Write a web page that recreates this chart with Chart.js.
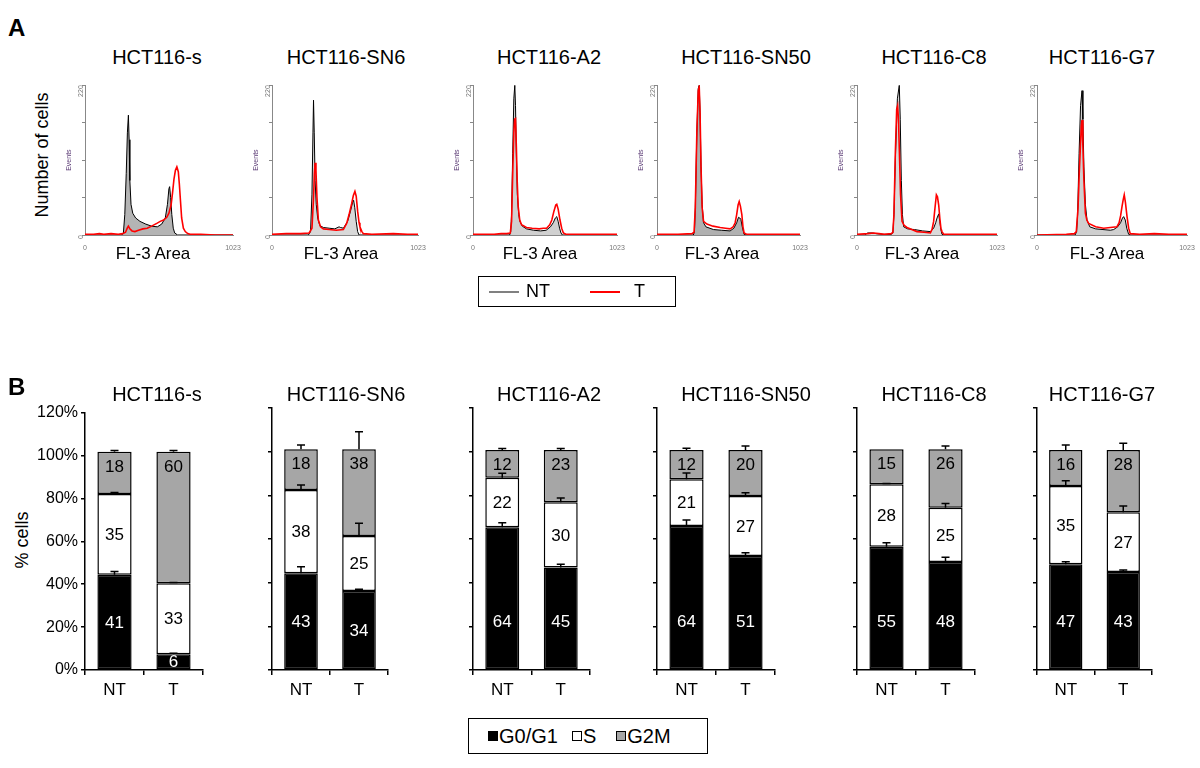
<!DOCTYPE html>
<html lang="en">
<head>
  <meta charset="UTF-8" />
  <title>Cell cycle profiles - HCT116 clones</title>
  <style>
    body {
      margin: 0;
      background-color: #fff;
      font-family: "Liberation Sans", Arial, sans-serif;
    }
    #fig {
      position: relative;
      width: 1200px;
      height: 768px;
      overflow: hidden;
    }
    canvas, .txt, .legend {
      position: absolute;
    }
    .txt {
      color: #000;
      white-space: nowrap;
      transform: translate(-50%, -50%);
    }
    .panel { font-size: 24px; font-weight: bold; transform: none; }
    .title { font-size: 20px; }
    .xlab { font-size: 17px; }
    .rot { font-size: 18px; transform: translate(-50%, -50%) rotate(-90deg); }
    .legend {
      border: 1px solid #000;
      box-sizing: border-box;
      display: flex;
      align-items: center;
      color: #000;
    }
  </style>
</head>
<body>
<div id="fig"></div>

<script src="https://cdn.jsdelivr.net/npm/chart.js"></script>
<script>
  // ---- data ----
  const cellLines = ['HCT116-s', 'HCT116-SN6', 'HCT116-A2', 'HCT116-SN50', 'HCT116-C8', 'HCT116-G7'];
  const conditions = ['NT', 'T'];

  // panel A: DNA content histograms, [FL-3 area, events]
  const histNT = [
    [[0,0],[250,0],[265,2],[275,30],[285,90],[293,150],[300,176],[305,140],[310,80],[318,45],[330,32],[350,25],[380,20],[420,16],[460,13],[500,12],[530,16],[555,25],[570,45],[580,68],[585,71],[592,55],[600,30],[610,10],[620,3],[640,0],[1023,0]],
    [[0,0],[255,0],[270,5],[280,60],[287,150],[291,198],[296,150],[302,80],[310,45],[320,25],[335,14],[360,11],[400,10],[440,9],[470,12],[480,11],[500,10],[530,20],[550,35],[565,48],[572,51],[580,40],[590,20],[600,5],[610,0],[1023,0]],
    [[0,0],[260,0],[268,5],[274,30],[282,120],[290,200],[297,220],[302,190],[308,120],[315,60],[325,30],[333,20],[350,13],[380,9],[430,7],[480,6],[520,7],[550,12],[570,18],[585,25],[595,27],[605,20],[615,10],[625,3],[635,0],[1023,0]],
    [[0,0],[260,0],[268,5],[274,40],[285,150],[295,215],[302,220],[308,180],[315,100],[323,45],[333,18],[350,12],[404,8],[460,7],[523,6],[550,10],[570,18],[583,26],[592,25],[600,23],[610,12],[623,1],[640,0],[1023,0]],
    [[0,0],[60,0],[75,3],[110,3],[140,2],[190,1],[250,1],[262,3],[270,30],[280,110],[295,200],[309,220],[316,170],[324,80],[332,30],[341,12],[370,9],[420,8],[480,6],[536,5],[560,10],[575,18],[585,25],[597,31],[605,20],[613,8],[621,1],[640,0],[1023,0]],
    [[0,0],[260,0],[270,5],[277,30],[287,120],[297,190],[307,212],[313,170],[320,100],[330,45],[341,22],[360,12],[400,9],[450,8],[500,7],[523,8],[550,12],[570,18],[583,25],[591,27],[602,22],[612,10],[625,1],[640,0],[1023,0]]
  ];
  const histT = [
    [[0,1],[60,1],[100,2],[130,1],[180,2],[230,1],[260,2],[280,4],[292,10],[300,13],[310,9],[325,6],[345,5],[370,7],[400,9],[430,10],[460,13],[496,17],[520,20],[543,22],[565,26],[580,32],[595,44],[605,62],[615,82],[625,95],[635,100],[645,93],[652,75],[660,50],[668,25],[680,10],[693,5],[710,2],[727,1],[800,1],[900,0],[1023,0]],
    [[0,1],[100,2],[200,2],[260,3],[280,10],[290,50],[297,90],[302,106],[308,95],[315,55],[325,22],[340,12],[360,9],[400,8],[450,7],[500,8],[523,17],[540,30],[558,46],[570,58],[581,64],[590,57],[600,35],[610,18],[616,12],[630,5],[640,2],[700,1],[850,2],[950,1],[1023,1]],
    [[0,1],[150,1],[200,2],[240,2],[265,3],[274,20],[282,90],[290,150],[296,170],[302,171],[308,130],[314,80],[321,42],[332,22],[345,15],[380,11],[420,10],[470,9],[500,10],[523,10],[545,15],[560,22],[575,35],[588,44],[595,45],[605,38],[618,22],[630,10],[642,3],[660,1],[800,1],[1023,1]],
    [[0,1],[150,1],[250,2],[265,4],[274,40],[285,150],[295,212],[302,218],[308,180],[315,100],[323,40],[333,20],[357,16],[400,13],[452,11],[490,10],[523,9],[545,12],[559,18],[570,30],[580,44],[588,49],[597,42],[607,30],[615,12],[623,3],[640,1],[1023,1]],
    [[0,1],[80,2],[120,3],[160,2],[200,1],[250,2],[262,4],[270,30],[280,120],[290,185],[297,190],[303,170],[310,120],[318,60],[329,20],[345,14],[365,11],[400,8],[438,5],[490,4],[536,3],[548,8],[560,20],[570,40],[580,59],[588,56],[597,44],[605,25],[613,10],[621,5],[634,1],[700,1],[1023,1]],
    [[0,0],[200,1],[255,2],[268,5],[280,40],[288,90],[295,125],[302,160],[307,169],[313,130],[320,80],[330,32],[340,22],[352,17],[400,12],[455,10],[500,11],[545,12],[560,18],[570,28],[580,42],[588,52],[595,59],[603,48],[614,27],[625,10],[636,2],[700,1],[800,2],[900,1],[1023,1]]
  ];
  const histXTicks = [0, 1023];
  const histYTicks = [0, 220];

  // panel B: stacked % of cells, per cell line [NT, T]
  const g0g1 = [[44.4, 7.3], [44.3, 36.2], [65.4, 46.9], [66.0, 52.2], [56.5, 49.5], [48.4, 44.9]];
  const sPhase = [[37.6, 33.2], [38.1, 25.2], [22.7, 29.9], [21.4, 27.5], [28.6, 24.8], [35.9, 27.3]];
  const g2m = [[19.7, 61.2], [18.7, 39.7], [12.7, 24.0], [13.4, 21.1], [16.0, 26.8], [16.5, 28.6]];
  // error bar half-heights (same layout)
  const g0g1Err = [[1.5, 0.5], [3.0, 0.8], [2.0, 1.5], [2.7, 1.5], [1.8, 2.1], [1.2, 0.9]];
  const sPhaseErr = [[0.8, 0.3], [2.3, 5.8], [2.0, 2.0], [2.8, 1.5], [0.3, 2.0], [2.4, 2.9]];
  const g2mErr = [[0.6, 0.6], [2.0, 8.0], [0.6, 0.6], [0.8, 1.8], [0, 1.5], [2.3, 3.0]];
  // printed numbers
  const g0g1Lbl = [[41, 6], [43, 34], [64, 45], [64, 51], [55, 48], [47, 43]];
  const sPhaseLbl = [[35, 33], [38, 25], [22, 30], [21, 27], [28, 25], [35, 27]];
  const g2mLbl = [[18, 60], [18, 38], [12, 23], [12, 20], [15, 26], [16, 28]];
  const pctTicks = [0, 20, 40, 60, 80, 100, 120];

  // ---- layout (px) ----
  const axisLeft = [85, 272, 473, 657, 857, 1037];
  const histRight = [233, 418, 617, 800, 997, 1187];
  const barRight = [203, 388, 590, 775, 975, 1152];
  const titleX = [157, 346, 549, 746, 934, 1102];
  const flX = [153, 341, 540, 722, 922, 1107];
  const histFill = ['#b4b4b4', '#d8d8d8', '#d0d0d0', '#b0b0b0', '#dadada', '#cfcfcf'];

  const fig = document.getElementById('fig');
  const FONT = '"Liberation Sans", Arial, sans-serif';
  Chart.defaults.font.family = FONT;

  function addText(text, x, y, cls) {
    const d = document.createElement('div');
    d.className = 'txt ' + cls;
    d.style.left = x + 'px';
    d.style.top = y + 'px';
    d.textContent = text;
    fig.appendChild(d);
    return d;
  }

  function addCanvas(left, top, w, h) {
    const c = document.createElement('canvas');
    c.width = w; c.height = h;
    c.style.left = left + 'px';
    c.style.top = top + 'px';
    c.style.width = w + 'px';
    c.style.height = h + 'px';
    fig.appendChild(c);
    return c.getContext('2d');
  }

  const toXY = arr => arr.map(p => ({ x: p[0], y: p[1] }));

  // ---- panel A ----
  const aTop = 85, aBottom = 235, aYW = 20, aXH = 20;
  cellLines.forEach((name, i) => {
    const w = aYW + (histRight[i] - axisLeft[i]) + 10;
    const ctx = addCanvas(axisLeft[i] - aYW, aTop - 5, w, 5 + (aBottom - aTop) + aXH);
    new Chart(ctx, {
      type: 'line',
      data: {
        datasets: [
          { data: toXY(histT[i]), borderColor: '#ff0000', borderWidth: 1.6, fill: false, pointRadius: 0, tension: 0 },
          { data: toXY(histNT[i]), borderColor: '#000', borderWidth: 1, backgroundColor: histFill[i], fill: 'origin', pointRadius: 0, tension: 0 }
        ]
      },
      options: {
        responsive: false,
        animation: false,
        events: [],
        layout: { padding: { top: 5, right: 10, left: 0, bottom: 0 } },
        plugins: { legend: { display: false }, tooltip: { enabled: false } },
        scales: {
          x: {
            type: 'linear', min: 0, max: 1023,
            afterBuildTicks: s => { s.ticks = histXTicks.map(v => ({ value: v })); },
            ticks: { font: { size: 7 }, color: '#777', padding: 1, maxRotation: 0, autoSkip: false,
              callback: v => String(v) },
            grid: { display: false },
            border: { color: '#888' },
            afterFit: s => { s.height = aXH; }
          },
          y: {
            min: 0, max: 220,
            ticks: { stepSize: 55, font: { size: 7 }, color: '#777', padding: 1, minRotation: 90, maxRotation: 90,
              callback: v => histYTicks.includes(v) ? String(v) : '' },
            grid: { drawOnChartArea: false, tickLength: 3, color: '#888' },
            border: { color: '#888' },
            title: { display: true, text: 'Events', font: { size: 7 }, color: '#5b3b75', padding: 0 },
            afterFit: s => { s.width = aYW; }
          }
        }
      }
    });
    addText(name, titleX[i], 57, 'title');
    addText('FL-3 Area', flX[i], 254, 'xlab');
  });

  // ---- panel B ----
  const errorBars = {
    id: 'errorBars',
    afterDatasetsDraw(chart) {
      const k = chart.options.lineIdx;
      const errs = [g0g1Err[k], sPhaseErr[k], g2mErr[k]];
      const y = chart.scales.y;
      const ctx = chart.ctx;
      ctx.save();
      ctx.strokeStyle = '#000';
      ctx.lineWidth = 1.5;
      const cum = [0, 0];
      chart.data.datasets.forEach((ds, di) => {
        chart.getDatasetMeta(di).data.forEach((bar, j) => {
          cum[j] += ds.data[j];
          const e = errs[di][j];
          if (!e) return;
          const y1 = y.getPixelForValue(cum[j]);
          const y2 = y.getPixelForValue(cum[j] + e);
          ctx.beginPath();
          ctx.moveTo(bar.x, y1); ctx.lineTo(bar.x, y2);
          ctx.moveTo(bar.x - 4, y2); ctx.lineTo(bar.x + 4, y2);
          ctx.stroke();
        });
      });
      ctx.restore();
    }
  };

  const segLabels = {
    id: 'segLabels',
    afterDatasetsDraw(chart) {
      const k = chart.options.lineIdx;
      const lbls = [g0g1Lbl[k], sPhaseLbl[k], g2mLbl[k]];
      const colors = ['#fff', '#000', '#000'];
      const y = chart.scales.y;
      const ctx = chart.ctx;
      ctx.save();
      ctx.font = '17px ' + FONT;
      ctx.textAlign = 'center';
      ctx.textBaseline = 'middle';
      chart.data.datasets.forEach((ds, di) => {
        chart.getDatasetMeta(di).data.forEach((bar, j) => {
          const mid = (bar.y + bar.base) / 2;
          let ty = mid;
          if (di === 0) ty = Math.max(mid, y.getPixelForValue(22.5));
          if (di === 2) ty = bar.y + 14;
          ctx.fillStyle = colors[di];
          ctx.fillText(String(lbls[di][j]), bar.x, ty + 1);
        });
      });
      ctx.restore();
    }
  };

  const bTop = 408, bBottom = 670, bYW = 50, bXH = 30;
  cellLines.forEach((name, i) => {
    const w = bYW + (barRight[i] - axisLeft[i]) + 6;
    const ctx = addCanvas(axisLeft[i] - bYW, bTop - 8, w, 8 + (bBottom - bTop) + bXH);
    const seg = (label, data, bg) => ({
      label, data, backgroundColor: bg, borderColor: '#000', borderWidth: 1.5, borderSkipped: false
    });
    new Chart(ctx, {
      type: 'bar',
      data: {
        labels: conditions,
        datasets: [
          seg('G0/G1', g0g1[i], '#000'),
          seg('S', sPhase[i], '#fff'),
          seg('G2M', g2m[i], '#a6a6a6')
        ]
      },
      options: {
        lineIdx: i,
        responsive: false,
        animation: false,
        events: [],
        datasets: { bar: { barPercentage: 0.58, categoryPercentage: 1 } },
        layout: { padding: { top: 8, right: 6, left: 0, bottom: 0 } },
        plugins: { legend: { display: false }, tooltip: { enabled: false } },
        scales: {
          x: {
            stacked: true,
            ticks: { font: { size: 17 }, color: '#000', padding: 5 },
            grid: { drawOnChartArea: false, tickLength: 5, color: '#000', lineWidth: 1.5, offset: true },
            border: { color: '#000', width: 1.5 },
            afterFit: s => { s.height = bXH; }
          },
          y: {
            stacked: true, min: 0, max: 120,
            afterBuildTicks: s => { s.ticks = pctTicks.map(v => ({ value: v })); },
            ticks: { display: i === 0, font: { size: 16 }, color: '#000', padding: 3, callback: v => v + '%' },
            grid: { drawOnChartArea: false, tickLength: 4, color: '#000', lineWidth: 1.5 },
            border: { color: '#000', width: 1.5 },
            afterFit: s => { s.width = bYW; }
          }
        }
      },
      plugins: [segLabels, errorBars]
    });
    addText(name, titleX[i], 394, 'title');
  });

  // ---- static labels and legends ----
  addText('A', 8, 14, 'panel');
  addText('B', 8, 373, 'panel');
  addText('Number of cells', 42, 155, 'rot');
  addText('% cells', 22, 540, 'rot');

  const legA = document.createElement('div');
  legA.className = 'legend';
  Object.assign(legA.style, { left: '478px', top: '276px', width: '198px', height: '31px', fontSize: '18px', paddingLeft: '10px' });
  legA.innerHTML =
    '<span style="display:inline-block;width:30px;height:2px;background:#808080;margin-right:7px"></span>NT' +
    '<span style="display:inline-block;width:30px;height:2px;background:#ff0000;margin:0 14px 0 40px"></span>T';
  fig.appendChild(legA);

  const legB = document.createElement('div');
  legB.className = 'legend';
  Object.assign(legB.style, { left: '468px', top: '718px', width: '240px', height: '36px', fontSize: '20px', paddingLeft: '19px', borderWidth: '1.5px' });
  const sq = (bg) => '<span style="display:inline-block;width:8px;height:8px;border:1px solid #000;background:' + bg + ';margin-right:1px"></span>';
  legB.innerHTML = sq('#000') + 'G0/G1' + '<span style="width:14px;display:inline-block"></span>' +
    sq('#fff') + 'S' + '<span style="width:20px;display:inline-block"></span>' + sq('#a6a6a6') + 'G2M';
  fig.appendChild(legB);
</script>
</body>
</html>
